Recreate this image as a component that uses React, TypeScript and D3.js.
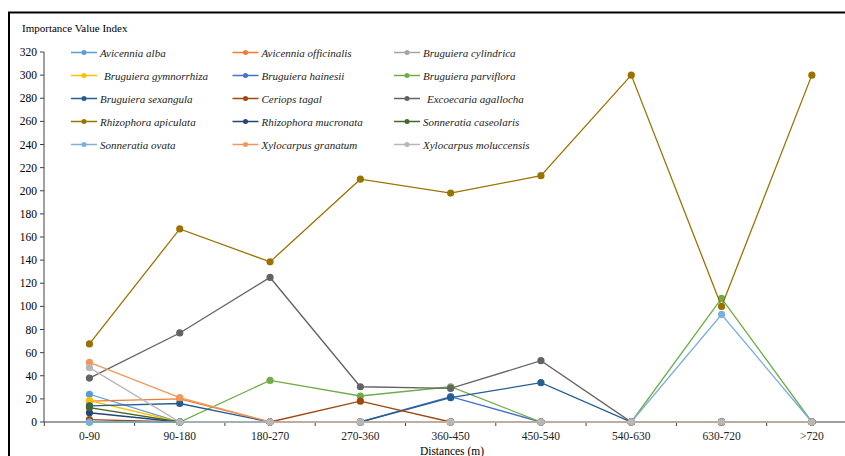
import React from "react";
import * as d3 from "d3";

const categories = ["0-90", "90-180", "180-270", "270-360", "360-450", "450-540", "540-630", "630-720", ">720"];
const yTicks = [0, 20, 40, 60, 80, 100, 120, 140, 160, 180, 200, 220, 240, 260, 280, 300, 320];

const aviAlba = [24, 0, 0, 0, 0, 0, 0, 0, 0];
const aviOfficinalis = [18, 20, 0, 0, 0, 0, 0, 0, 0];
const brCylindrica = [0, 0, 0, 0, 0, 0, 0, 0, 0];
const brGymnorrhiza = [18.5, 0, 0, 0, 0, 0, 0, 0, 0];
const brHainesii = [0, 0, 0, 0, 22, 0, 0, 0, 0];
const brParviflora = [0, 0, 36, 22.5, 30.5, 0, 0, 107, 0];
const brSexangula = [14, 16, 0, 0, 21, 34, 0, 0, 0];
const ceriopsTagal = [2, 0, 0, 18, 0, 0, 0, 0, 0];
const excoecaria = [38, 77, 125, 30.5, 29, 53, 0, 0, 0];
const rhApiculata = [67.5, 167, 138.5, 210, 198, 213, 300, 100, 300];
const rhMucronata = [8, 0, 0, 0, 0, 0, 0, 0, 0];
const sonCaseolaris = [12.5, 0, 0, 0, 0, 0, 0, 0, 0];
const sonOvata = [0, 0, 0, 0, 0, 0, 0, 93, 0];
const xyGranatum = [51.5, 21, 0, 0, 0, 0, 0, 0, 0];
const xyMoluccensis = [47, 0, 0, 0, 0, 0, 0, 0, 0];

const seriesNames = [
  "Avicennia alba", "Avicennia officinalis", "Bruguiera cylindrica",
  "Bruguiera gymnorrhiza", "Bruguiera hainesii", "Bruguiera parviflora",
  "Bruguiera sexangula", "Ceriops tagal", "Excoecaria agallocha",
  "Rhizophora apiculata", "Rhizophora mucronata", "Sonneratia caseolaris",
  "Sonneratia ovata", "Xylocarpus granatum", "Xylocarpus moluccensis",
];
const seriesValues = [
  aviAlba, aviOfficinalis, brCylindrica, brGymnorrhiza, brHainesii, brParviflora,
  brSexangula, ceriopsTagal, excoecaria, rhApiculata, rhMucronata, sonCaseolaris,
  sonOvata, xyGranatum, xyMoluccensis,
];
const seriesColors = [
  "#5B9BD5", "#ED7D31", "#A5A5A5", "#FFC000", "#4472C4", "#70AD47",
  "#255E91", "#9E480E", "#636363", "#997300", "#264478", "#43682B",
  "#7CAFDD", "#F1975A", "#B7B7B7",
];
const legendIndent = [0, 0, 0, 4, 0, 0, 0, 0, 4, 0, 0, 0, 0, 0, 0];

const FONT = "'Liberation Serif', 'Times New Roman', serif";

export default function App() {
  const x = d3.scaleBand().domain(categories).range([44.3, 857]).padding(0);
  const y = d3.scaleLinear().domain([0, 320]).range([422, 52]);
  const cx = (c: string) => (x(c) as number) + x.bandwidth() / 2;
  const line = d3.line<number>().x((_, i) => cx(categories[i])).y((v) => y(v));

  const boundaries = d3.range(categories.length + 1).map((i) => 44.3 + i * x.step());

  return (
    <svg width={845} height={456} style={{ position: "absolute", left: 0, top: 0, background: "#fff" }}>
      <rect x={0} y={0} width={845} height={456} fill="#fff" />
      <rect x={9} y={12.5} width={900} height={500} fill="none" stroke="#000" strokeWidth={2} />
      <text x={22} y={32} fontFamily={FONT} fontSize={11} fill="#000">Importance Value Index</text>

      {/* y axis */}
      <line x1={44} x2={44} y1={y(320)} y2={y(0)} stroke="#404040" strokeWidth={1} />
      {yTicks.map((t) => (
        <g key={t}>
          <line x1={40} x2={44} y1={y(t)} y2={y(t)} stroke="#404040" />
          <text x={37} y={y(t) + 4} textAnchor="end" fontFamily={FONT} fontSize={11.5} fill="#000">{t}</text>
        </g>
      ))}

      {/* x axis */}
      <line x1={44} x2={845} y1={y(0)} y2={y(0)} stroke="#404040" strokeWidth={1} />
      {boundaries.map((b, i) => (
        <line key={i} x1={b} x2={b} y1={y(0)} y2={y(0) + 4} stroke="#404040" />
      ))}
      {categories.map((c) => (
        <text key={c} x={cx(c)} y={440} textAnchor="middle" fontFamily={FONT} fontSize={11.5} fill="#222">{c}</text>
      ))}
      <text x={452} y={455} textAnchor="middle" fontFamily={FONT} fontSize={11.5} fill="#000">Distances (m)</text>

      {/* series */}
      {seriesValues.map((vals, si) => (
        <g key={si}>
          <path d={line(vals) as string} fill="none" stroke={seriesColors[si]} strokeWidth={1.3} />
          {vals.map((v, i) => (
            <circle key={i} cx={cx(categories[i])} cy={y(v)} r={3.6} fill={seriesColors[si]} />
          ))}
        </g>
      ))}

      {/* legend */}
      {seriesNames.map((name, i) => {
        const col = i % 3;
        const row = Math.floor(i / 3);
        const lx = 71 + col * 161.5;
        const ly = 52.5 + row * 23;
        return (
          <g key={name}>
            <line x1={lx} x2={lx + 26} y1={ly} y2={ly} stroke={seriesColors[i]} strokeWidth={1.5} />
            <circle cx={lx + 13} cy={ly} r={2.5} fill={seriesColors[i]} />
            <text x={lx + 29 + legendIndent[i]} y={ly + 4} fontFamily={FONT} fontStyle="italic" fontSize={11} fill="#222">{name}</text>
          </g>
        );
      })}
    </svg>
  );
}
